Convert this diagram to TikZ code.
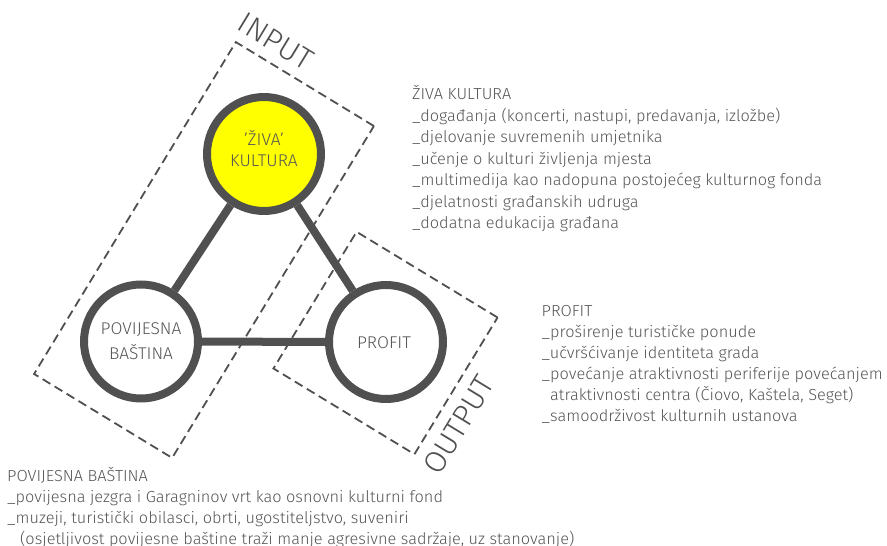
\documentclass[tikz,border=0pt]{standalone}
\usepackage{fontspec}
\setmainfont{Fira Sans}[UprightFont={* Light}, FakeStretch=1.02]
\definecolor{ink}{HTML}{505050}
\definecolor{txt}{HTML}{555555}
\definecolor{zyellow}{HTML}{FFFF00}
\begin{document}
\begin{tikzpicture}[x=1pt,y=-1pt,
  circ/.style={circle, draw=ink, line width=8pt, minimum size=114pt, inner sep=0pt, fill=white},
  ctext/.style={anchor=base, inner sep=0pt, text=txt, font=\fontsize{17}{20}\selectfont},
  conn/.style={draw=ink, line width=8pt},
  zone/.style={rectangle, draw=ink, dash pattern=on 9pt off 5pt, line width=1.8pt, rotate=-31.3, inner sep=0pt},
  tag/.style={inner sep=0pt, text=ink, font=\fontsize{30}{30}\selectfont},
  ln/.style={anchor=base west, inner sep=0pt, text=txt, font=\fontsize{16}{18}\selectfont}]
\useasboundingbox (0,0) rectangle (887,546);

% dashed zones
\node[zone, minimum width=161.6pt, minimum height=388.4pt] (inzone) at (204,250) {};
\node[zone, minimum width=165pt, minimum height=160pt] (outzone) at (385.5,343) {};
\node[tag, rotate=-31.3] (intag) at (276,41.5) {INPUT};
\node[tag, rotate=58.7] (outtag) at (458.5,425) {OUTPUT};

% circles
\node[circ, fill=zyellow] (zk) at (264,154) {};
\node[circ] (pb) at (141,341.5) {};
\node[circ] (pr) at (386,342) {};
\draw[conn] (zk) -- (pb);
\draw[conn] (zk) -- (pr);
\draw[conn] (pb) -- (pr);

\node[ctext] (zk1) at (264,145) {'ŽIVA'};
\node[ctext] (zk2) at (264,166.5) {KULTURA};
\node[ctext] (pb1) at (141,334) {POVIJESNA};
\node[ctext] (pb2) at (141,359) {BAŠTINA};
\node[ctext] (pr1) at (384,348) {PROFIT};

% ziva kultura list
\node[ln] (a0) at (412,99.5) {ŽIVA KULTURA};
\node[ln] (a1) at (412,121) {\_događanja (koncerti, nastupi, predavanja, izložbe)};
\node[ln] (a2) at (412,142.5) {\_djelovanje suvremenih umjetnika};
\node[ln] (a3) at (412,164) {\_učenje o kulturi življenja mjesta};
\node[ln] (a4) at (412,185.5) {\_multimedija kao nadopuna postojećeg kulturnog fonda};
\node[ln] (a5) at (412,207) {\_djelatnosti građanskih udruga};
\node[ln] (a6) at (412,228.5) {\_dodatna edukacija građana};

% profit list
\node[ln] (b0) at (541.5,316.5) {PROFIT};
\node[ln] (b1) at (541.5,337.5) {\_proširenje turističke ponude};
\node[ln] (b2) at (541.5,358.5) {\_učvršćivanje identiteta grada};
\node[ln] (b3) at (541.5,379.5) {\_povećanje atraktivnosti periferije povećanjem};
\node[ln] (b4) at (550,400.5) {atraktivnosti centra (Čiovo, Kaštela, Seget)};
\node[ln] (b5) at (541.5,421.5) {\_samoodrživost kulturnih ustanova};

% povijesna bastina list
\node[ln] (c0) at (7,481.5) {POVIJESNA BAŠTINA};
\node[ln] (c1) at (7,502.5) {\_povijesna jezgra i Garagninov vrt kao osnovni kulturni fond};
\node[ln] (c2) at (7,523.5) {\_muzeji, turistički obilasci, obrti, ugostiteljstvo, suveniri};
\node[ln] (c3) at (20,544.5) {(osjetljivost povijesne baštine traži manje agresivne sadržaje, uz stanovanje)};
\end{tikzpicture}
\end{document}
